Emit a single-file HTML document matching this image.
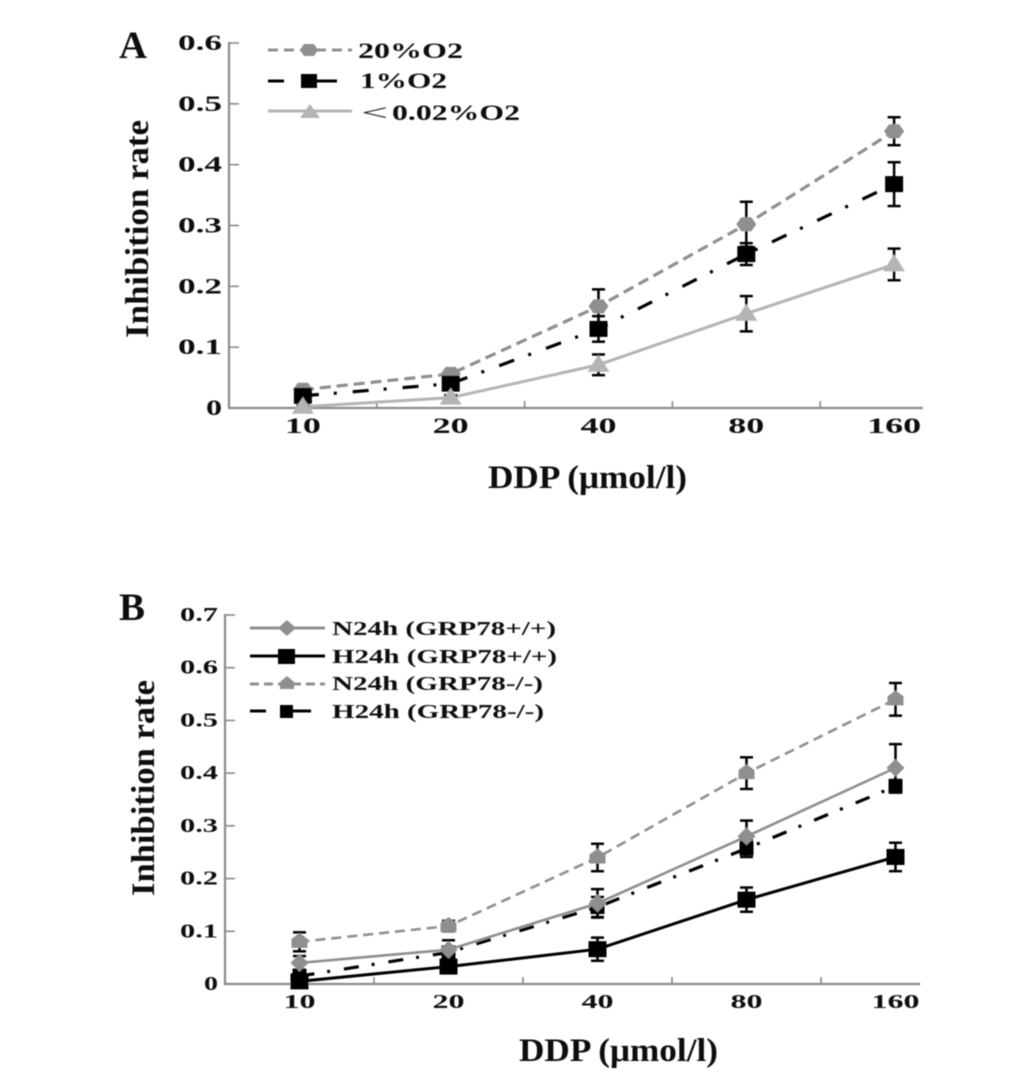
<!DOCTYPE html>
<html>
<head>
<meta charset="utf-8">
<title>Inhibition rate charts</title>
<style>
html,body{margin:0;padding:0;background:#fff;width:1033px;height:1076px;overflow:hidden}
svg{display:block}
text{font-family:"Liberation Serif","Times New Roman",serif;font-weight:bold;fill:#111}
</style>
</head>
<body>
<svg id="fig" width="1033" height="1076" viewBox="0 0 1033 1076" xmlns="http://www.w3.org/2000/svg">
<defs><filter id="soft" x="-5%" y="-5%" width="110%" height="110%"><feGaussianBlur stdDeviation="0.55"/></filter></defs>
<rect width="1033" height="1076" fill="#fff"/>
<g filter="url(#soft)">
<text x="119" y="58" font-size="39" textLength="28" lengthAdjust="spacingAndGlyphs">A</text>
<text x="119" y="620" font-size="39" textLength="26" lengthAdjust="spacingAndGlyphs">B</text>
<text transform="translate(148,338) rotate(-90)" font-size="33" textLength="218" lengthAdjust="spacingAndGlyphs">Inhibition rate</text>
<text x="488" y="488" font-size="33" textLength="199" lengthAdjust="spacingAndGlyphs">DDP (μmol/l)</text>
<text transform="translate(154,896) rotate(-90)" font-size="33" textLength="216" lengthAdjust="spacingAndGlyphs">Inhibition rate</text>
<text x="519" y="1061" font-size="33" textLength="199" lengthAdjust="spacingAndGlyphs">DDP (μmol/l)</text>

<g id="panel-a"></g>
<g id="panel-b"></g>

<g>
  <g>
    <line x1="268" y1="50" x2="352" y2="50" stroke="#8f8f8f" stroke-width="3" stroke-dasharray="10 6"/>
    <polygon points="300,50 304,44 314,44 318,50 314,56 304,56" fill="#8f8f8f"/>
    <text x="358" y="58" font-size="22" textLength="105" lengthAdjust="spacingAndGlyphs">20%O2</text>
  </g>
  <g>
    <line x1="268" y1="81" x2="284" y2="81" stroke="#000" stroke-width="3"/>
    <line x1="316" y1="81" x2="337" y2="81" stroke="#000" stroke-width="3"/>
    <rect x="301" y="74" width="16" height="14" fill="#000"/>
    <text x="360" y="88" font-size="22" textLength="87" lengthAdjust="spacingAndGlyphs">1%O2</text>
  </g>
  <g>
    <line x1="268" y1="111" x2="352" y2="111" stroke="#b4b4b4" stroke-width="3"/>
    <polygon points="310,104 320,118 300,118" fill="#b4b4b4"/>
    <text x="361" y="120" font-size="22" textLength="27" lengthAdjust="spacingAndGlyphs" style="font-weight:normal">&lt;</text>
    <text x="392" y="120" font-size="22" textLength="128" lengthAdjust="spacingAndGlyphs">0.02%O2</text>
  </g>
</g>

<g>
  <g>
    <line x1="250" y1="628" x2="325" y2="628" stroke="#8f8f8f" stroke-width="3"/>
    <polygon points="287,620 296,628 287,636 278,628" fill="#8f8f8f"/>
    <text x="332" y="635" font-size="20" textLength="224" lengthAdjust="spacingAndGlyphs">N24h (GRP78+/+)</text>
  </g>
  <g>
    <line x1="250" y1="656" x2="325" y2="656" stroke="#000" stroke-width="3"/>
    <rect x="278" y="649" width="17" height="15" fill="#000"/>
    <text x="332" y="663" font-size="20" textLength="225" lengthAdjust="spacingAndGlyphs">H24h (GRP78+/+)</text>
  </g>
  <g>
    <line x1="250" y1="684" x2="325" y2="684" stroke="#8f8f8f" stroke-width="3" stroke-dasharray="9 5"/>
    <polygon points="287,676 294,682 294,689 280,689 280,682" fill="#8f8f8f"/>
    <text x="332" y="690" font-size="20" textLength="211" lengthAdjust="spacingAndGlyphs">N24h (GRP78-/-)</text>
  </g>
  <g>
    <line x1="250" y1="711" x2="266" y2="711" stroke="#000" stroke-width="3"/>
    <line x1="290" y1="711" x2="311" y2="711" stroke="#000" stroke-width="3"/>
    <rect x="280" y="705" width="13" height="13" fill="#000"/>
    <text x="332" y="718" font-size="20" textLength="212" lengthAdjust="spacingAndGlyphs">H24h (GRP78-/-)</text>
  </g>
</g>
</g>
</svg>
<script>
// ---- Shared data ----
const doses = ['10', '20', '40', '80', '160'];

// ---- Panel A data ----
const ticksA = [0, 0.1, 0.2, 0.3, 0.4, 0.5, 0.6];
const tickLabelsA = ['0', '0.1', '0.2', '0.3', '0.4', '0.5', '0.6'];
const o2High = [0.030, 0.056, 0.167, 0.302, 0.455];
const o2HighErr = [0.006, 0.004, 0.028, 0.037, 0.023];
const o2Mid = [0.020, 0.040, 0.130, 0.253, 0.368];
const o2MidErr = [0.006, 0.005, 0.021, 0.018, 0.036];
const o2Low = [0.002, 0.017, 0.071, 0.155, 0.236];
const o2LowErr = [0.002, 0.004, 0.017, 0.029, 0.026];

// ---- Panel B data ----
const ticksB = [0, 0.1, 0.2, 0.3, 0.4, 0.5, 0.6, 0.7];
const tickLabelsB = ['0', '0.1', '0.2', '0.3', '0.4', '0.5', '0.6', '0.7'];
const n24Wt = [0.040, 0.065, 0.153, 0.280, 0.410];
const n24WtErr = [0.013, 0.018, 0.027, 0.030, 0.045];
const h24Wt = [0.005, 0.033, 0.066, 0.160, 0.241];
const h24WtErr = [0.004, 0.006, 0.022, 0.023, 0.027];
const n24Ko = [0.080, 0.110, 0.240, 0.400, 0.540];
const n24KoErr = [0.018, 0.010, 0.026, 0.030, 0.031];
const h24Ko = [0.015, 0.060, 0.146, 0.257, 0.375];
const h24KoErr = [0.012, 0.010, 0.019, 0.016, 0.012];

const NS = 'http://www.w3.org/2000/svg';

function make(parent, tag, attrs) {
  const el = document.createElementNS(NS, tag);
  for (const k in attrs) el.setAttribute(k, attrs[k]);
  parent.appendChild(el);
  return el;
}

function drawMarker(g, kind, x, y, color) {
  if (kind === 'hex') {
    make(g, 'polygon', {points: [[x-10,y],[x-5,y-7],[x+5,y-7],[x+10,y],[x+5,y+7],[x-5,y+7]].map(p => p.join(',')).join(' '), fill: color});
  } else if (kind === 'diamond') {
    make(g, 'polygon', {points: [[x-9,y],[x,y-9],[x+9,y],[x,y+9]].map(p => p.join(',')).join(' '), fill: color});
  } else if (kind === 'tri') {
    make(g, 'polygon', {points: [[x,y-10],[x+11,y+7],[x-11,y+7]].map(p => p.join(',')).join(' '), fill: color});
  } else if (kind === 'pent') {
    make(g, 'polygon', {points: [[x,y-9],[x+8,y-3],[x+8,y+6],[x-8,y+6],[x-8,y-3]].map(p => p.join(',')).join(' '), fill: color});
  } else if (kind === 'square') {
    make(g, 'rect', {x: x-9, y: y-8, width: 18, height: 16, fill: color});
  } else {
    make(g, 'rect', {x: x-7, y: y-7, width: 14, height: 14, fill: color});
  }
}

function drawPanel(root, cfg) {
  const yOf = v => cfg.y0 - v / cfg.yMax * (cfg.y0 - cfg.yTop);
  const xOf = i => cfg.x0 + cfg.band * (i + 0.5);

  const axes = make(root, 'g', {});
  
  
  make(axes, 'line', {x1: cfg.x0, y1: cfg.yTop - 1, x2: cfg.x0, y2: cfg.y0 + 1, stroke: '#8a8a8a', 'stroke-width': 2.2});
  make(axes, 'line', {x1: cfg.x0 - 1, y1: cfg.y0, x2: cfg.xEnd, y2: cfg.y0, stroke: '#8a8a8a', 'stroke-width': 2.2});

  cfg.ticks.forEach((t, i) => {
    make(axes, 'line', {x1: cfg.x0, y1: yOf(t), x2: cfg.x0 + 10, y2: yOf(t), stroke: '#8a8a8a', 'stroke-width': 1.6});
    const label = cfg.tickLabels[i];
    const w = label.length === 1 ? cfg.zeroW : cfg.yLabelW;
    const txt = make(axes, 'text', {x: cfg.yLabelRight - w, y: yOf(t) + cfg.yLabelDy, 'font-size': cfg.tickFont, textLength: w, lengthAdjust: 'spacingAndGlyphs'});
    txt.textContent = label;
    
    
  });

  doses.forEach((d, i) => {
    const tx = cfg.x0 + cfg.band * (i + 1);
    if (i < doses.length - 1) {
      make(axes, 'line', {x1: tx, y1: cfg.y0, x2: tx, y2: cfg.y0 - 7, stroke: '#8a8a8a', 'stroke-width': 1.6});
    }
    const w = d.length * cfg.xCharW;
    const txt = make(axes, 'text', {x: xOf(i) - w / 2, y: cfg.xLabelY, 'font-size': cfg.tickFont, textLength: w, lengthAdjust: 'spacingAndGlyphs'});
    txt.textContent = d;
    
    
  });

  cfg.series.forEach(s => {
    const g = make(root, 'g', {});
    
    
    const pts = s.values.map((v, i) => xOf(i) + ',' + yOf(v)).join(' ');
    const lineAttrs = {points: pts, fill: 'none', stroke: s.color, 'stroke-width': s.width};
    if (s.dash) lineAttrs['stroke-dasharray'] = s.dash;
    make(g, 'polyline', lineAttrs);
    s.values.forEach((v, i) => {
      const x = xOf(i), hi = yOf(v + s.err[i]), lo = yOf(v - s.err[i]);
      make(g, 'line', {x1: x, y1: hi, x2: x, y2: lo, stroke: '#000', 'stroke-width': 2.5});
      make(g, 'line', {x1: x - 6.5, y1: hi, x2: x + 6.5, y2: hi, stroke: '#000', 'stroke-width': 2.5});
      make(g, 'line', {x1: x - 6.5, y1: lo, x2: x + 6.5, y2: lo, stroke: '#000', 'stroke-width': 2.5});
    });
    s.values.forEach((v, i) => drawMarker(g, s.marker, xOf(i), yOf(v), s.markerColor));
  });
}

drawPanel(document.getElementById('panel-a'), {
  x0: 229, xEnd: 923, band: 147.8, y0: 408, yTop: 43, yMax: 0.6,
  ticks: ticksA, tickLabels: tickLabelsA, tickFont: 22,
  yLabelW: 44, zeroW: 16, yLabelRight: 222, yLabelDy: 7, xCharW: 18, xLabelY: 433,
  series: [
    {name: 'series-20-o2', values: o2High, err: o2HighErr, color: '#8f8f8f', markerColor: '#8f8f8f', width: 3.2, dash: '11 6', marker: 'hex'},
    {name: 'series-1-o2', values: o2Mid, err: o2MidErr, color: '#000', markerColor: '#000', width: 3.2, dash: '16 15 3 16', marker: 'square'},
    {name: 'series-0-02-o2', values: o2Low, err: o2LowErr, color: '#b4b4b4', markerColor: '#b4b4b4', width: 3, marker: 'tri'}
  ]
});

drawPanel(document.getElementById('panel-b'), {
  x0: 225, xEnd: 920, band: 149, y0: 984, yTop: 615, yMax: 0.7,
  ticks: ticksB, tickLabels: tickLabelsB, tickFont: 20,
  yLabelW: 38, zeroW: 14, yLabelRight: 218, yLabelDy: 6, xCharW: 16, xLabelY: 1008,
  series: [
    {name: 'series-n24h-grp78-ko', values: n24Ko, err: n24KoErr, color: '#8f8f8f', markerColor: '#8f8f8f', width: 2.6, dash: '10 6', marker: 'pent'},
    {name: 'series-h24h-grp78-ko', values: h24Ko, err: h24KoErr, color: '#000', markerColor: '#000', width: 3.2, dash: '15 13 3 14', marker: 'small'},
    {name: 'series-n24h-grp78-wt', values: n24Wt, err: n24WtErr, color: '#8f8f8f', markerColor: '#8f8f8f', width: 2.6, marker: 'diamond'},
    {name: 'series-h24h-grp78-wt', values: h24Wt, err: h24WtErr, color: '#000', markerColor: '#000', width: 3, marker: 'square'}
  ]
});
</script>
</body>
</html>
